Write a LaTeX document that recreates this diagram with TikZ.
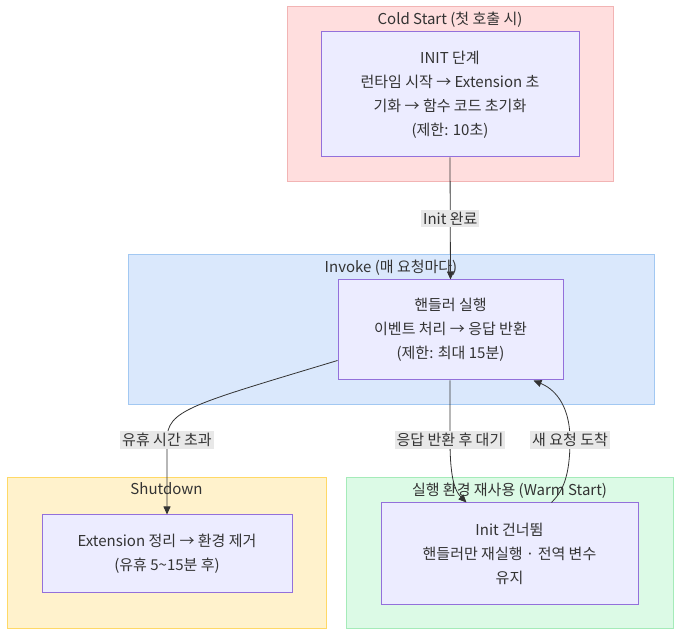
\documentclass[tikz,border=0pt]{standalone}
\usepackage{fontspec}
\setmainfont{Noto Sans CJK KR}
\usetikzlibrary{arrows.meta,positioning,calc}
\definecolor{lineclr}{RGB}{51,51,51}
\definecolor{textclr}{RGB}{51,51,51}
\definecolor{nodefill}{RGB}{236,236,255}
\definecolor{nodeborder}{RGB}{147,112,219}
\definecolor{coldfill}{RGB}{255,222,222}
\definecolor{coldline}{RGB}{242,180,180}
\definecolor{invfill}{RGB}{218,232,252}
\definecolor{invline}{RGB}{162,200,242}
\definecolor{shutfill}{RGB}{255,242,204}
\definecolor{shutline}{RGB}{255,217,102}
\definecolor{warmfill}{RGB}{220,250,230}
\definecolor{warmline}{RGB}{165,235,185}
\definecolor{lblfill}{RGB}{232,232,232}
\tikzset{
  txt/.style={font=\fontsize{15}{24}\selectfont, text=textclr},
  cluster/.style={line width=1pt, inner sep=0pt},
  stepbox/.style={txt, draw=nodeborder, fill=nodefill, line width=1pt, align=center, inner sep=0pt},
  ctitle/.style={txt, below=5pt, inner sep=0pt},
  edge/.style={draw=lineclr, line width=0.8pt, -{Triangle[length=8pt,width=7pt]}},
  elabel/.style={txt, fill=lblfill, inner sep=2pt},
}

\begin{document}
\begin{tikzpicture}[x=1pt, y=-1pt]
    \useasboundingbox (0,0) rectangle (689,644);
    % clusters
    \node[cluster, draw=coldline, fill=coldfill, minimum width=326pt, minimum height=175pt] (cold) at (450,94.5) {};
    \node[ctitle] at (cold.north) {Cold Start (첫 호출 시)};
    \node[cluster, draw=invline, fill=invfill, minimum width=526pt, minimum height=150pt] (inv) at (391,330) {};
    \node[ctitle] at (inv.north) {Invoke (매 요청마다)};
    \node[cluster, draw=shutline, fill=shutfill, minimum width=319pt, minimum height=150pt] (shut) at (166.5,553) {};
    \node[ctitle] at (shut.north) {Shutdown};
    \node[cluster, draw=warmline, fill=warmfill, minimum width=327pt, minimum height=150pt] (warm) at (509.5,553) {};
    \node[ctitle] at (warm.north) {실행 환경 재사용 (Warm Start)};
    % steps
    \node[stepbox, minimum width=258pt, minimum height=125pt] (init) at (450,94.5)
      {INIT 단계\\런타임 시작 → Extension 초\\기화 → 함수 코드 초기화\\(제한: 10초)};
    \node[stepbox, minimum width=225pt, minimum height=100pt] (hnd) at (450.5,330)
      {핸들러 실행\\이벤트 처리 → 응답 반환\\(제한: 최대 15분)};
    \node[stepbox, minimum width=250pt, minimum height=77pt] (clean) at (167,553.5)
      {Extension 정리 → 환경 제거\\(유휴 5\textasciitilde15분 후)};
    \node[stepbox, minimum width=257pt, minimum height=101pt] (reuse) at (509.5,553.5)
      {Init 건너뜀\\핸들러만 재실행 · 전역 변수\\유지};
    % edges
    \draw[edge] (init.south) -- node[elabel] {Init 완료} (hnd.north);
    \draw[edge] ($(hnd.south west)+(0,-20)$) .. controls (190,405) and (167,410) .. (167,440)
      node[elabel] {유휴 시간 초과} -- (clean.north);
    \draw[edge] ($(hnd.south)+(-0.5,0)$) -- (450,440) node[elabel] {응답 반환 후 대기}
      .. controls (450,482) and (456,492) .. ($(reuse.north west)+(86,0)$);
    \draw[edge] ($(reuse.north west)+(171,0)$) .. controls (562,492) and (570,478) .. (570,440)
      node[elabel] {새 요청 도착} .. controls (570,402) and (552,388) .. ($(hnd.south east)+(-30,0)$);
\end{tikzpicture}
\end{document}
